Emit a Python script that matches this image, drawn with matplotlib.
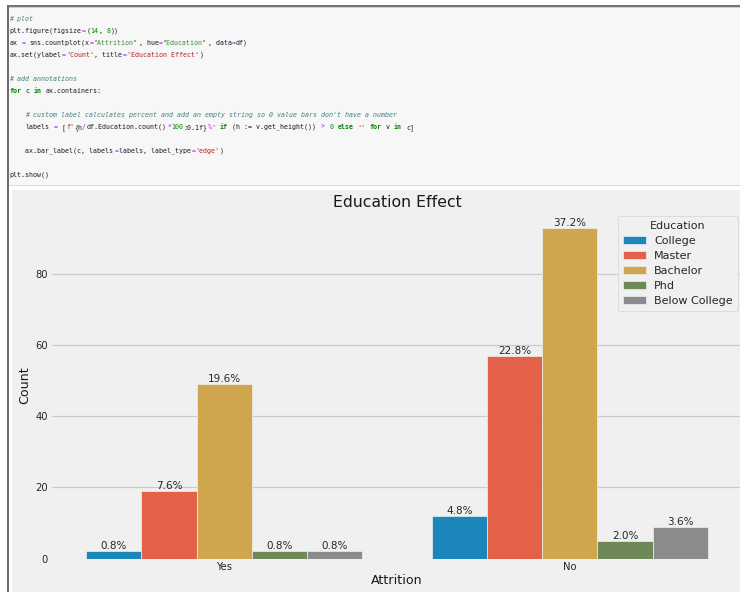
import colorsys
import matplotlib
matplotlib.use("Agg")
import matplotlib.pyplot as plt
from matplotlib.colors import to_rgb
from matplotlib.patches import Rectangle

# ---- data -------------------------------------------------------------
attrition = ["Yes", "No"]
education = ["College", "Master", "Bachelor", "Phd", "Below College"]
counts_yes = [2, 19, 49, 2, 2]
counts_no = [12, 57, 93, 5, 9]
base_colors = ["#008fd5", "#fc4f30", "#e5ae38", "#6d904f", "#8b8b8b"]
yticks = [0, 20, 40, 60, 80]

# ---- notebook cell source, split into highlighted tokens -----------------
code_lines = [
    [("# plot", "c")],
    [("plt.figure(figsize", ""), ("=", "o"), ("(", ""), ("14", "n"), (", ", ""),
     ("8", "n"), ("))", "")],
    [("ax ", ""), ("=", "o"), (" sns.countplot(x", ""), ("=", "o"), ('"Attrition"', "d"),
     (", hue", ""), ("=", "o"), ('"Education"', "d"), (", data", ""), ("=", "o"),
     ("df)", "")],
    [("ax.set(ylabel", ""), ("=", "o"), ("'Count'", "s"), (", title", ""), ("=", "o"),
     ("'Education Effect'", "s"), (")", "")],
    [],
    [("# add annotations", "c")],
    [("for", "k"), (" c ", ""), ("in", "k"), (" ax.containers:", "")],
    [],
    [("    ", ""), ("# custom label calculates percent and add an empty string so 0 "
                     "value bars don't have a number", "c")],
    [("    labels ", ""), ("=", "o"), (" [", ""), ("f'", "s"), ("{h", ""), ("/", "o"),
     ("df.Education.count()", ""), ("*", "o"), ("100", "n"), (":0.1f}", ""),
     ("%", "o"), ("'", "s"), (" ", ""), ("if", "k"), (" (h := v.get_height()) ", ""),
     (">", "o"), (" ", ""), ("0", "n"), (" ", ""), ("else", "k"), (" ", ""),
     ("''", "s"), (" ", ""), ("for", "k"), (" v ", ""), ("in", "k"), (" c]", "")],
    [],
    [("    ax.bar_label(c, labels", ""), ("=", "o"), ("labels, label_type", ""),
     ("=", "o"), ("'edge'", "s"), (")", "")],
    [],
    [("plt.show()", "")],
]

code_styles = {
    "": dict(color="#1a1a1a"),
    "c": dict(color="#408080", style="italic"),
    "k": dict(color="#008000", weight="bold"),
    "s": dict(color="#BA2121"),
    "d": dict(color="#3b8a3b"),
    "n": dict(color="#008800"),
    "o": dict(color="#AA22FF"),
}

W, H = 740, 592


def fx(x):
    return x / W


def fy(y):
    return 1 - y / H


def desaturate(color, prop=0.75):
    h, l, s = colorsys.rgb_to_hls(*to_rgb(color))
    return colorsys.hls_to_rgb(h, l, s * prop)


plt.rcParams["font.family"] = ["DejaVu Sans"]
fig = plt.figure(figsize=(W / 100, H / 100), dpi=100, facecolor="white")


def frect(x0, y0, x1, y1, color):
    fig.patches.append(Rectangle((fx(x0), fy(y1)), fx(x1) - fx(x0), fy(y0) - fy(y1),
                                 transform=fig.transFigure, facecolor=color,
                                 edgecolor="none", zorder=-10))


# ---- notebook frame -------------------------------------------------------
frect(8, 7.5, W, 185, "#f7f7f7")
frect(8, 4.8, W, 6.8, "#767676")
frect(8, 6.8, W, 7.8, "#cfcfcf")
frect(8, 185, W, 186.2, "#dadada")
frect(12, 189.5, W, H, "#f0f0f0")
frect(7.3, 4.8, 8.9, H, "#6e6e6e")

# code text, one token at a time on a fixed monospace grid
char_w = 4.05
x_start = 9.2
for k, tokens in enumerate(code_lines):
    col = 0
    base_y = 20.8 + 12 * k
    for text, sty in tokens:
        body = text.strip()
        if body:
            lead = len(text) - len(text.lstrip())
            fig.text(fx(x_start + (col + lead) * char_w), fy(base_y), body,
                     family="DejaVu Sans Mono", fontsize=4.75, va="baseline",
                     ha="left", **code_styles[sty])
        col += len(text)

# ---- chart ----------------------------------------------------------------
ax_l, ax_r, ax_t, ax_b = 51.5, 742.5, 211.0, 558.6
ax = fig.add_axes([fx(ax_l), fy(ax_b), fx(ax_r) - fx(ax_l), fy(ax_t) - fy(ax_b)])
ax.set_facecolor("#f0f0f0")
for sp in ax.spines.values():
    sp.set_visible(False)

total = sum(counts_yes) + sum(counts_no)
n = len(education)
width = 0.8 / n
for i, edu in enumerate(education):
    heights = [counts_yes[i], counts_no[i]]
    xs = [j - 0.4 + width * (i + 0.5) for j in range(len(attrition))]
    bars = ax.bar(xs, heights, width=width, color=desaturate(base_colors[i]),
                  edgecolor="#f0f0f0", linewidth=0.5, label=edu, zorder=2)
    labels = [f"{h / total * 100:0.1f}%" if h > 0 else "" for h in heights]
    ax.bar_label(bars, labels=labels, label_type="edge", fontsize=7.5,
                 color="#262626", padding=0)

ax.set_xlim(-0.5, len(attrition) - 0.5)
ax.set_xticks(range(len(attrition)))
ax.set_xticklabels(attrition)
ax.set_yticks(yticks)
ax.yaxis.grid(True, color="#cbcbcb", linewidth=0.9, zorder=0)
ax.xaxis.grid(False)
ax.set_axisbelow(True)
ax.tick_params(axis="both", length=0, labelsize=7.2, labelcolor="#262626")
ax.tick_params(axis="y", pad=2.7)
ax.tick_params(axis="x", pad=2.6)

ax.set_title("Education Effect", fontsize=11.3, color="#1a1a1a", pad=3)
fig.text(fx((ax_l + ax_r) / 2), fy(580), "Attrition", fontsize=9.1,
         color="#1a1a1a", ha="center", va="center")
fig.text(fx(24.5), fy((ax_t + ax_b) / 2), "Count", fontsize=9.1, color="#1a1a1a",
         ha="center", va="center", rotation=90)

leg = ax.legend(title="Education", loc="upper right",
                bbox_to_anchor=(fx(737.7), fy(216)), bbox_transform=fig.transFigure,
                borderaxespad=0, fontsize=8, title_fontsize=8, handlelength=2.07,
                handleheight=0.7, handletextpad=0.72, labelspacing=0.45,
                borderpad=0.45, frameon=True, fancybox=True, framealpha=0.9)
leg.get_frame().set_facecolor("#f0f0f0")
leg.get_frame().set_edgecolor("#d6d6d6")
leg.get_frame().set_linewidth(0.6)
for t in leg.get_texts():
    t.set_color("#262626")
leg.get_title().set_color("#262626")

fig.savefig("out.png", dpi=100, facecolor=fig.get_facecolor())
